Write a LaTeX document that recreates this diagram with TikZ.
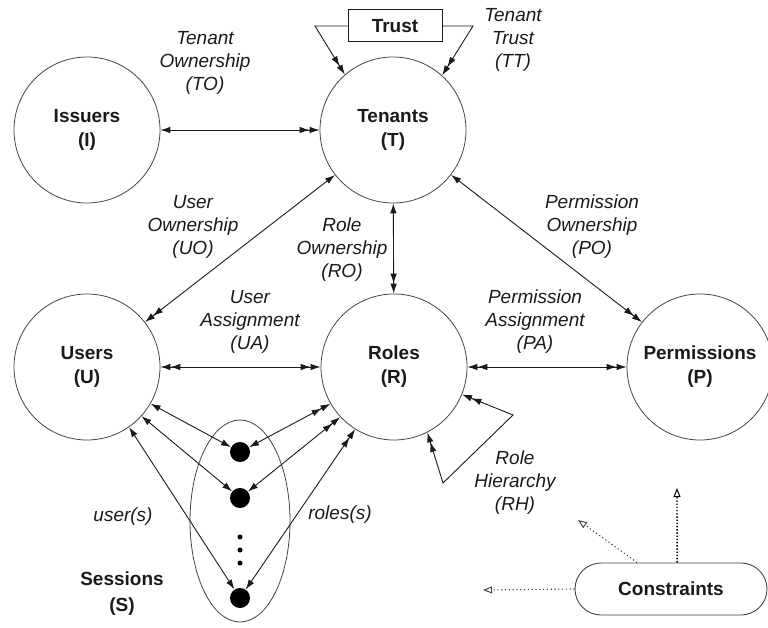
\documentclass[tikz,border=0pt]{standalone}
\usepackage{fontspec}
\setmainfont{Liberation Sans}
\usetikzlibrary{arrows.meta,shapes.geometric}
\definecolor{ink}{HTML}{1A1A1A}
\definecolor{rim}{HTML}{444444}
\tikzset{
  ah/.tip={Latex[length=10pt,width=6.5pt]},
  aa/.tip={Latex[length=10pt,width=6.5pt] Latex[length=10pt,width=6.5pt]},
  oh/.tip={Triangle[open,length=9pt,width=7pt,line width=1pt]},
  entity/.style={circle,draw=rim,line width=0.8pt,minimum size=146pt,inner sep=0pt,
    font=\fontsize{19}{24}\selectfont\bfseries,text=ink,align=center},
  rel/.style={font=\fontsize{19}{23}\selectfont\itshape,text=ink,align=center,inner sep=0pt},
  boldlbl/.style={font=\fontsize{19}{26}\selectfont\bfseries,text=ink,align=center,inner sep=0pt},
  link/.style={draw=ink,line width=0.9pt},
  sdot/.style={circle,fill=black,minimum size=20pt,inner sep=0pt},
  tinydot/.style={circle,fill=black,minimum size=5pt,inner sep=0pt},
  constraint/.style={draw=rim,line width=1.1pt,dash pattern=on 1.2pt off 2.6pt},
}
\begin{document}
\begin{tikzpicture}[x=1pt,y=-1pt]
\useasboundingbox (0,0) rectangle (768,628);

% entities
\node[entity] (I) at (87,130) {Issuers\\(I)};
\node[entity] (T) at (393,130) {Tenants\\(T)};
\node[entity] (U) at (87,367) {Users\\(U)};
\node[entity] (R) at (394,367) {Roles\\(R)};
\node[entity] (P) at (700,367) {Permissions\\(P)};

% trust box and its two feeds into Tenants
\node[draw=ink,line width=1pt,minimum width=94pt,minimum height=32pt,inner sep=0pt,
      font=\fontsize{19}{23}\selectfont\bfseries,text=ink] (trust) at (395,26) {Trust};
\coordinate (tl) at (315,26);
\coordinate (tr) at (473,26);
\draw[link,-{aa}] (trust.west) -- (tl) -- (T.131);
\draw[link,-{aa}] (trust.east) -- (tr) -- (T.48);

% ownership and assignment relations
\draw[link,{ah}-{aa}] (I) -- (T);
\draw[link,{aa}-{ah}] (U) -- (T);
\draw[link,{ah}-{aa}] (T) -- (R);
\draw[link,{ah}-{aa}] (T) -- (P);
\draw[link,{aa}-{aa}] (U) -- (R);
\draw[link,{aa}-{aa}] (R) -- (P);

% role hierarchy loop
\coordinate (rh1) at (513,415);
\coordinate (rh2) at (443,483);
\draw[link,{aa}-{aa}] (R.338) -- (rh1) -- (rh2) -- (R.297);

% sessions
\node[ellipse,draw=rim,line width=0.8pt,minimum width=100pt,minimum height=202pt,inner sep=0pt] (S) at (240,521) {};
\node[sdot] (s1) at (240,452) {};
\node[sdot] (s2) at (240,498) {};
\node[sdot] (s3) at (240,598) {};
\node[tinydot] (e1) at (240,537) {};
\node[tinydot] (e2) at (240,550) {};
\node[tinydot] (e3) at (240,563) {};
\draw[link,{ah}-{ah}] (U.330) -- (s1);
\draw[link,{ah}-{ah}] (U.318) -- (s2);
\draw[link,{ah}-{ah}] (U.305) -- (s3);
\draw[link,{aa}-{ah}] (R.210) -- (s1);
\draw[link,{aa}-{ah}] (R.223) -- (s2);
\draw[link,{aa}-{ah}] (R.238) -- (s3);

% constraints
\node[draw=rim,line width=0.9pt,rounded corners=26pt,minimum width=192pt,minimum height=52pt,
      inner sep=0pt,font=\fontsize{19}{23}\selectfont\bfseries,text=ink] (C) at (671,589) {Constraints};
\coordinate (k1) at (677,488);
\coordinate (k2) at (578,520);
\coordinate (k3) at (483,590);
\draw[constraint,draw=black,line width=1.4pt,dash pattern=on 1.4pt off 1.8pt,-{oh}] (C.77) -- (k1);
\draw[constraint,-{oh}] (C.142) -- (k2);
\draw[constraint,-{oh}] (C.west) -- (k3);

% relation labels
\node[rel] (lTO) at (205,63) {Tenant\\Ownership\\(TO)};
\node[rel] (lTT) at (513,40) {Tenant\\Trust\\(TT)};
\node[rel] (lUO) at (193,227) {User\\Ownership\\(UO)};
\node[rel] (lRO) at (342,250) {Role\\Ownership\\(RO)};
\node[rel] (lPO) at (592,227) {Permission\\Ownership\\(PO)};
\node[rel] (lUA) at (250,322) {User\\Assignment\\(UA)};
\node[rel] (lPA) at (535,322) {Permission\\Assignment\\(PA)};
\node[rel] (lRH) at (515,483) {Role\\Hierarchy\\(RH)};
\node[rel] (lus) at (123,517) {user(s)};
\node[rel] (lrs) at (340,515) {roles(s)};
\node[boldlbl] (lS) at (122,594) {Sessions\\(S)};
\end{tikzpicture}
\end{document}
